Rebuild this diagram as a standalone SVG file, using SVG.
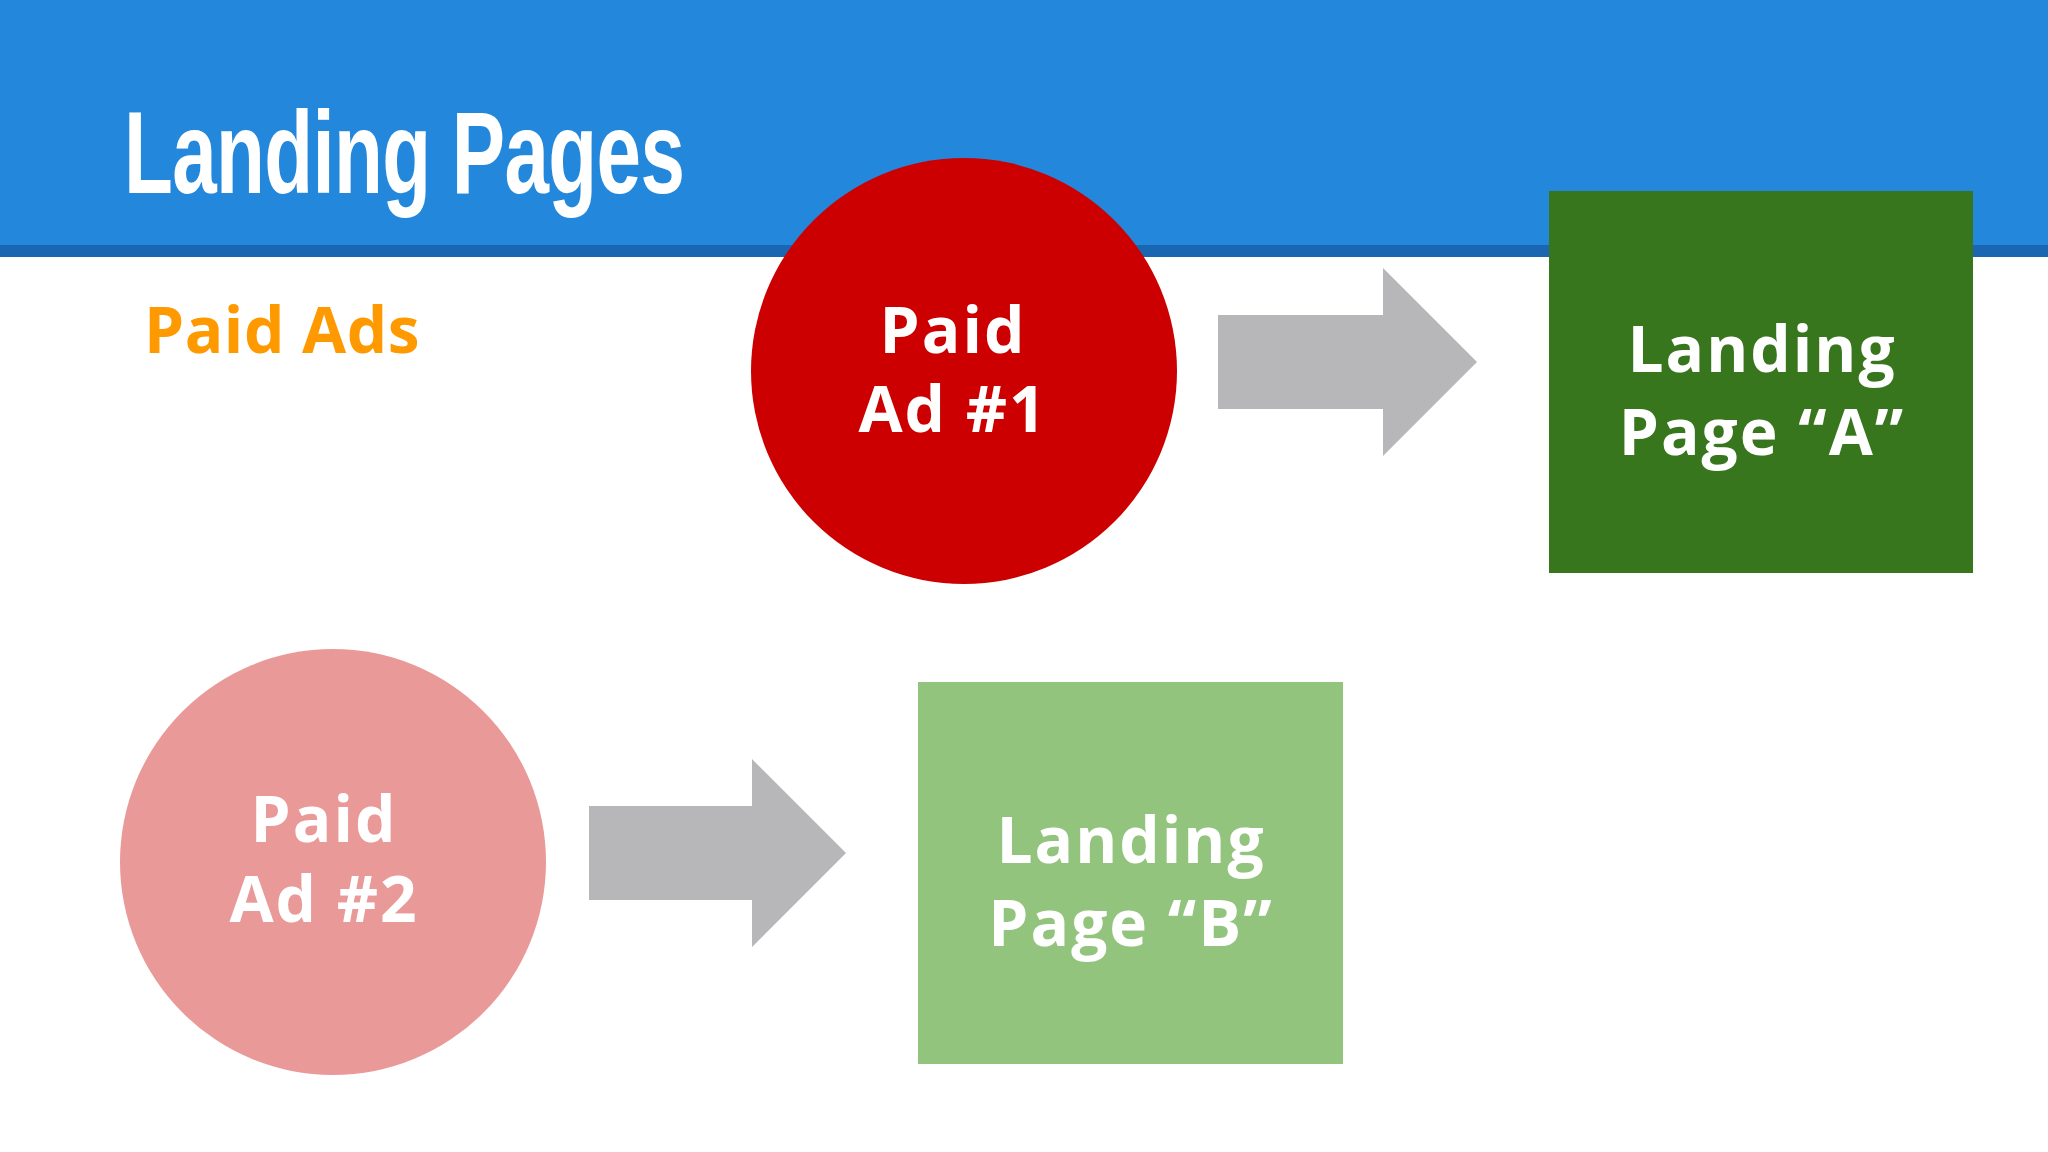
<svg xmlns="http://www.w3.org/2000/svg" width="2048" height="1152" viewBox="0 0 2048 1152">
<style>
.t{font-family:"Open Sans","Noto Sans",sans-serif;font-weight:bold;font-size:64px;fill:#fff;text-anchor:middle;letter-spacing:2px}
.arr{fill:#b7b6b8}
</style>
<rect width="2048" height="1152" fill="#fff"/>
<g id="header">
<rect x="0" y="0" width="2048" height="247" fill="#2387db"/>
<rect x="0" y="245" width="2048" height="12" fill="#1a66b3"/>
<text x="124" y="193" font-family="Liberation Sans, sans-serif" font-weight="bold" font-size="116" fill="#fff" transform="translate(124 0) scale(0.69 1) translate(-124 0)" letter-spacing="-1">Landing Pages</text>
</g>
<g id="label"><text x="144" y="353" font-family="Open Sans, sans-serif" font-weight="bold" font-size="64" fill="#ff9900" letter-spacing="0.5">Paid Ads</text></g>
<g id="ad1"><circle cx="964" cy="371" r="213" fill="#cc0000"/><text class="t" x="953" y="353">Paid</text><text class="t" x="953" y="432">Ad #1</text></g>
<g id="pageA"><rect x="1549" y="191" width="424" height="382" fill="#38761d"/><text class="t" x="1762" y="372">Landing</text><text class="t" x="1762" y="455">Page “A”</text></g>
<g id="ad2"><circle cx="333" cy="862" r="213" fill="#ea9999"/><text class="t" x="324" y="842">Paid</text><text class="t" x="324" y="922">Ad #2</text></g>
<g id="pageB"><rect x="918" y="682" width="425" height="382" fill="#93c47d"/><text class="t" x="1131" y="863">Landing</text><text class="t" x="1131" y="946">Page “B”</text></g>
<g id="connectors">
<polygon class="arr" points="1218,315 1383,315 1383,268 1477,362 1383,456 1383,409 1218,409"/>
<polygon class="arr" points="589,806 752,806 752,759 846,853 752,947 752,900 589,900"/>
</g>
</svg>
